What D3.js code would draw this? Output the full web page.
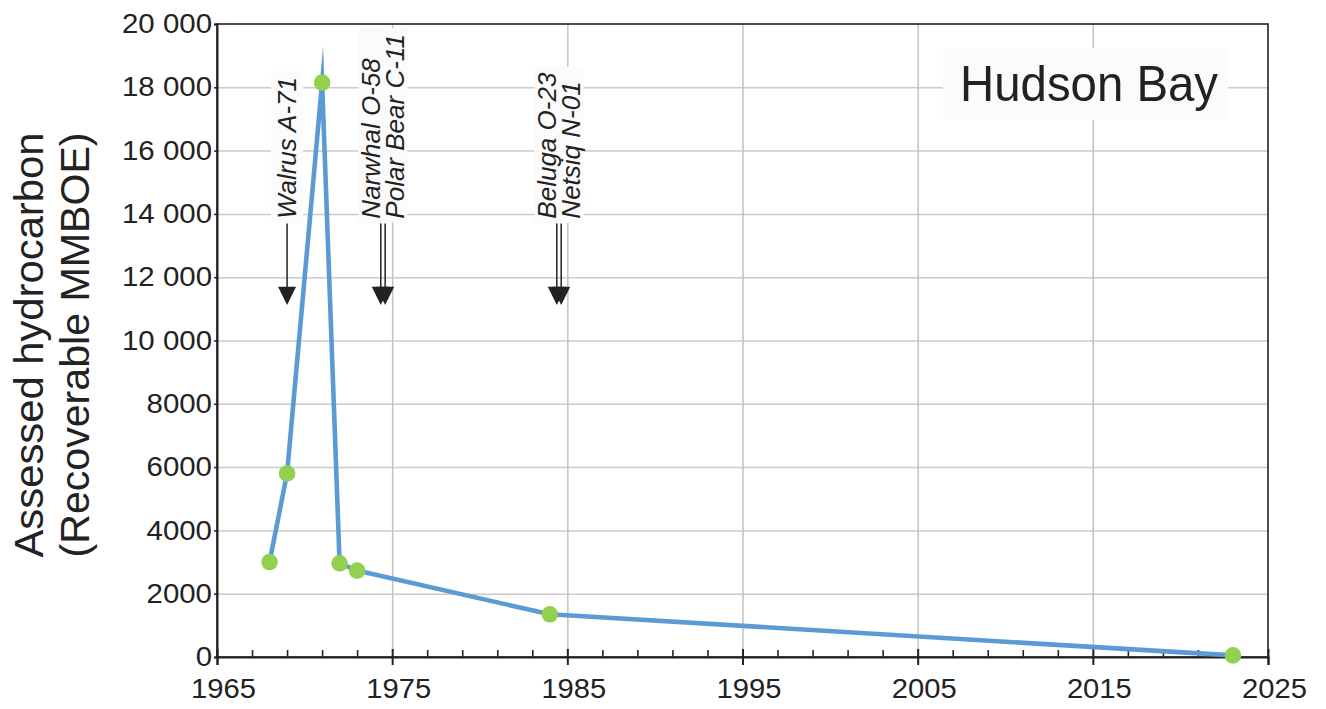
<!DOCTYPE html>
<html><head><meta charset="utf-8">
<script src="https://cdn.jsdelivr.net/npm/d3@7"></script>
<style>
html,body{margin:0;padding:0;background:#fff;}
svg{display:block;font-family:"Liberation Sans",Arial,Helvetica,sans-serif;}
</style></head><body>
<svg id="chart" width="1326" height="709"></svg>
<script>
// ---- data ----
const years = [1968, 1969, 1971, 1972, 1973, 1984, 2023];
const assessed = [3000, 5800, 18150, 2960, 2730, 1350, 50];
const wellNames = ["Walrus A-71", "Narwhal O-58", "Polar Bear C-11", "Beluga O-23", "Netsiq N-01"];
const wellYears = [1969, 1974.35, 1974.6, 1984.4, 1984.65];
const wellGroups = [[0], [1, 2], [3, 4]];
const yTicks = [0, 2000, 4000, 6000, 8000, 10000, 12000, 14000, 16000, 18000, 20000];
const yTickLabels = ["0", "2000", "4000", "6000", "8000", "10 000", "12 000", "14 000", "16 000", "18 000", "20 000"];
const xTicks = [1965, 1975, 1985, 1995, 2005, 2015, 2025];
const xTickLabels = ["1965", "1975", "1985", "1995", "2005", "2015", "2025"];
const yTitle = ["Assessed hydrocarbon", "(Recoverable MMBOE)"];
const regionName = "Hudson Bay";

// ---- layout ----
const svg = d3.select("#chart");
const X0 = 217, X1 = 1268, Y0 = 657, Y1 = 24;
const x = d3.scaleLinear().domain([1965, 2025]).range([X0, X1]);
const y = d3.scaleLinear().domain([0, 20000]).range([Y0, Y1]);
const ink = "#222";

// gridlines
svg.append("g").attr("transform", `translate(${X0},0)`)
  .call(d3.axisLeft(y).tickValues(yTicks.filter(v => v > 0 && v < 20000)).tickSize(-(X1 - X0)).tickFormat(""))
  .call(g => g.select(".domain").remove())
  .selectAll("line").attr("stroke", "#cbcbcb").attr("stroke-width", 1.5);
svg.append("g").attr("transform", `translate(0,${Y1})`)
  .call(d3.axisTop(x).tickValues(xTicks.filter(v => v > 1965 && v < 2025)).tickSize(-(Y0 - Y1)).tickFormat(""))
  .call(g => g.select(".domain").remove())
  .selectAll("line").attr("stroke", "#c2c2c2").attr("stroke-width", 1.5);

// well labels + arrows
const labelFs = 26, lineGap = 24, capH = 0.72 * labelFs;
const labelBaseVal = 13850, arrowTopVal = 13700, headBaseVal = 11700, tipVal = 11120;
wellGroups.forEach(grp => {
  const cx = d3.mean(grp, i => x(wellYears[i]));
  const n = grp.length;
  const tmp = grp.map(i => {
    const t = svg.append("text").attr("font-size", labelFs).attr("font-style", "italic").text(wellNames[i]);
    const w = t.node().getComputedTextLength(); t.remove(); return w;
  });
  const maxLen = d3.max(tmp);
  const bw = 17 * n + 15;
  svg.append("rect").attr("x", cx - bw / 2).attr("width", bw)
    .attr("y", y(labelBaseVal) - maxLen - 6).attr("height", maxLen + 10)
    .attr("fill", "#fbfbfb");
  grp.forEach((i, k) => {
    const bx = cx + capH / 2 + (k - (n - 1) / 2) * lineGap;
    svg.append("text")
      .attr("transform", `translate(${bx},${y(labelBaseVal)}) rotate(-90)`)
      .attr("font-size", labelFs).attr("font-style", "italic").attr("fill", ink)
      .text(wellNames[i]);
  });
  grp.forEach(i => {
    const ax = x(wellYears[i]);
    svg.append("line").attr("x1", ax).attr("x2", ax).attr("y1", y(arrowTopVal)).attr("y2", y(headBaseVal) + 2)
      .attr("stroke", ink).attr("stroke-width", 1.5);
    svg.append("path")
      .attr("d", `M${ax - 9},${y(headBaseVal)} L${ax + 9},${y(headBaseVal)} L${ax},${y(tipVal)} Z`)
      .attr("fill", ink);
  });
});

// region title
const titleText = svg.append("text").attr("font-size", 50).attr("fill", ink)
  .attr("x", 960).attr("y", 101).attr("textLength", 258).attr("lengthAdjust", "spacingAndGlyphs")
  .text(regionName);
svg.insert("rect", () => titleText.node()).attr("x", 943).attr("y", 48).attr("width", 285).attr("height", 72).attr("fill", "#fbfbfb");

// frame
svg.append("rect").attr("x", X0).attr("y", Y1).attr("width", X1 - X0).attr("height", Y0 - Y1)
  .attr("fill", "none").attr("stroke", ink).attr("stroke-width", 1.6);

// y axis
const yAxis = svg.append("g").attr("transform", `translate(${X0},0)`)
  .call(d3.axisLeft(y).tickValues(yTicks).tickFormat((d, i) => yTickLabels[i]).tickSize(3).tickPadding(2));
yAxis.select(".domain").attr("stroke", ink).attr("stroke-width", 2);
yAxis.selectAll("line").attr("stroke", ink).attr("stroke-width", 1.5);
yAxis.selectAll("text").attr("font-size", 27).attr("fill", ink).attr("font-family", null)
  .each(function () { const w = this.getComputedTextLength(); d3.select(this).attr("textLength", w * 1.09).attr("lengthAdjust", "spacingAndGlyphs"); });

// x axis minor ticks (upward)
const minor = d3.range(1967, 2025, 2).filter(v => (v - 1965) % 10 !== 0);
const xMinor = svg.append("g").attr("transform", `translate(0,${Y0})`)
  .call(d3.axisBottom(x).tickValues(minor).tickSize(-7).tickFormat(""));
xMinor.select(".domain").remove();
xMinor.selectAll("line").attr("stroke", ink).attr("stroke-width", 1.6);

// x axis major
const xAxis = svg.append("g").attr("transform", `translate(0,${Y0})`)
  .call(d3.axisBottom(x).tickValues(xTicks).tickFormat((d, i) => xTickLabels[i]).tickSize(8).tickPadding(14));
xAxis.select(".domain").attr("stroke", ink).attr("stroke-width", 2);
xAxis.selectAll(".tick line").attr("y1", -8).attr("stroke", ink).attr("stroke-width", 2);
xAxis.selectAll("text").attr("font-size", 27).attr("fill", ink).attr("x", 6)
  .each(function () { const w = this.getComputedTextLength(); d3.select(this).attr("textLength", w * 1.08).attr("lengthAdjust", "spacingAndGlyphs"); });

// y title
const yMid = 345;
yTitle.forEach((t, i) => {
  svg.append("text")
    .attr("transform", `translate(${43 + i * 45.5},${yMid}) rotate(-90)`)
    .attr("text-anchor", "middle").attr("font-size", 40).attr("fill", ink)
    .attr("textLength", 425).attr("lengthAdjust", "spacingAndGlyphs")
    .text(t);
});

// data line + points
const data = years.map((yr, i) => ({ year: yr, v: assessed[i] }));
svg.append("path").datum(data)
  .attr("d", d3.line().x(d => x(d.year)).y(d => y(d.v)))
  .attr("fill", "none").attr("stroke", "#5b9bd5").attr("stroke-width", 4.6)
  .attr("stroke-linejoin", "miter").attr("stroke-miterlimit", 30);
svg.append("g").selectAll("circle").data(data).join("circle")
  .attr("cx", d => x(d.year)).attr("cy", d => y(d.v)).attr("r", 8.3)
  .attr("fill", "#92d050");
</script>
</body></html>
